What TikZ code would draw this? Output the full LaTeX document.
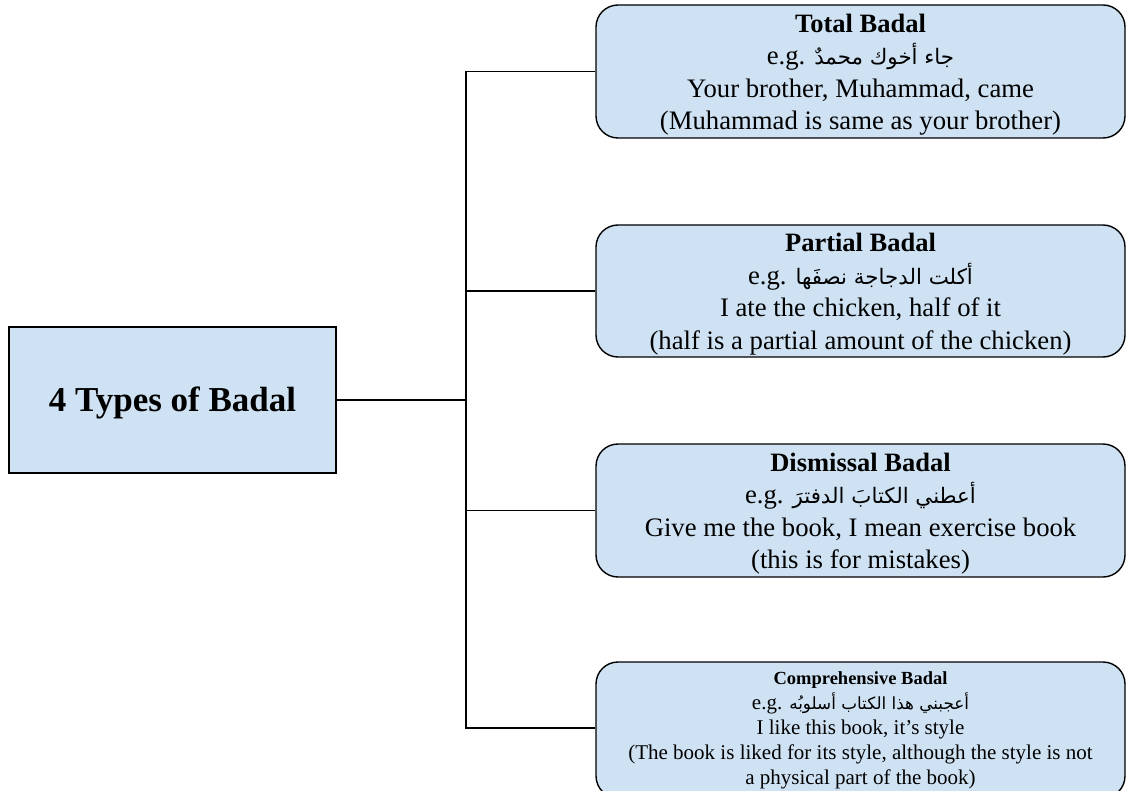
\documentclass[tikz,border=0pt]{standalone}
\usepackage{fontspec}
\setmainfont{Liberation Serif}
\newfontfamily\arabicfont[Script=Arabic,Scale=0.8]{DejaVu Sans}
\TeXXeTstate=1
\definecolor{boxblue}{HTML}{CFE2F3}
\newcommand{\ar}[1]{{\arabicfont\beginR #1\endR}}
\tikzset{
  rootbox/.style={draw=black, line width=1.4pt, fill=boxblue, rectangle,
    minimum width=327pt, minimum height=146pt, inner sep=0pt},
  typebox/.style={draw=black, line width=1.4pt, fill=boxblue, rectangle,
    rounded corners=22pt, minimum width=529pt, inner sep=0pt},
  roottext/.style={align=center, inner sep=0pt,
    font=\fontsize{35}{40}\selectfont\bfseries},
  bigtext/.style={align=center, inner sep=0pt,
    font=\fontsize{26.7}{32.5}\selectfont},
  smalltext/.style={align=center, inner sep=0pt,
    font=\fontsize{21}{25}\selectfont},
  bigtitle/.style={font=\fontsize{26.5}{32.5}\selectfont\bfseries},
  link/.style={draw=black, line width=1.4pt}
}
\begin{document}
\begin{tikzpicture}[x=1pt, y=-1pt]
  \useasboundingbox (0,0) rectangle (1126,791);

  % root
  \node[rootbox] (root) at (172.5,400) {};
  \node[roottext] (roottxt) at ([yshift=-3pt]root.center) {4 Types of Badal};

  % the four kinds
  \node[typebox, minimum height=133pt] (total) at (860.5,71.5) {};
  \node[bigtext] (totaltxt) at ([yshift=-3pt]total.center)
    {{\fontsize{26.5}{32.5}\selectfont\bfseries Total Badal}\\
     e.g. \ar{جاء أخوك محمدٌ}\\
     Your brother, Muhammad, came\\
     (Muhammad is same as your brother)};

  \node[typebox, minimum height=132pt] (partial) at (860.5,291) {};
  \node[bigtext] (partialtxt) at ([yshift=-3pt]partial.center)
    {{\fontsize{26.5}{32.5}\selectfont\bfseries Partial Badal}\\
     e.g. \ar{أكلت الدجاجة نصفَها}\\
     I ate the chicken, half of it\\
     (half is a partial amount of the chicken)};

  \node[typebox, minimum height=133pt] (dismissal) at (860.5,510.5) {};
  \node[bigtext] (dismissaltxt) at ([yshift=-3pt]dismissal.center)
    {{\fontsize{26.5}{32.5}\selectfont\bfseries Dismissal Badal}\\
     e.g. \ar{أعطني الكتابَ الدفترَ}\\
     Give me the book, I mean exercise book\\
     (this is for mistakes)};

  \node[typebox, minimum height=136pt] (compr) at (860.5,730) {};
  \node[smalltext] (comprtxt) at (compr.center)
    {{\fontsize{18.5}{25}\selectfont\bfseries Comprehensive Badal}\\
     e.g. \ar{أعجبني هذا الكتاب أسلوبُه}\\
     I like this book, it’s style\\
     (The book is liked for its style, although the style is not\\
     a physical part of the book)};

  % tree connectors
  \coordinate (hub) at (466,400);
  \draw[link] (root.east) -- (hub);
  \draw[link] (hub) |- (total.west);
  \draw[link] (hub) |- (partial.west);
  \draw[link] (hub) |- (dismissal.west);
  \draw[link] (hub) |- ([yshift=2pt]compr.west);
\end{tikzpicture}
\end{document}
